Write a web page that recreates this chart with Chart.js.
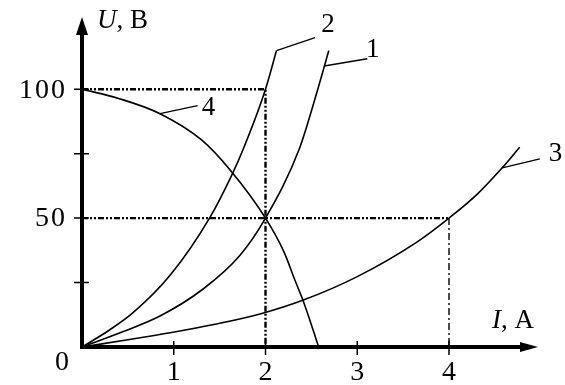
<!DOCTYPE html>
<html>
<head>
<meta charset="utf-8">
<script src="https://cdn.jsdelivr.net/npm/chart.js@4.4.1/dist/chart.umd.min.js"></script>
<style>
  html, body { margin: 0; padding: 0; background: #fff; }
  #chart { display: block; }
</style>
</head>
<body>
<canvas id="chart" width="565" height="385"></canvas>
<script>
// Current I (A) and voltage U (V)
const curve1I = [0, 0.45, 0.85, 1.32, 1.72, 2, 2.37, 2.57, 2.69];
const curve1U = [0, 6, 12, 22.5, 35.5, 50, 77, 100, 115];

const curve2I = [0, 0.3, 0.56, 0.96, 1.39, 1.63, 1.76, 2, 2.12];
const curve2U = [0, 6.6, 13.4, 27.8, 50, 66.5, 77, 100, 115];

const curve3I = [0, 0.5, 0.96, 1.45, 1.94, 2.42, 3, 3.65, 4, 4.3, 4.58, 4.77];
const curve3U = [0, 2.8, 5.5, 8.8, 12.8, 18.3, 27.3, 40.7, 50, 59, 69.5, 77.5];

const curve4I = [0, 0.4, 0.85, 1.3, 1.63, 2, 2.2, 2.32, 2.42, 2.58];
const curve4U = [100, 96.4, 90.5, 80.4, 68, 50, 37, 26, 17, 0];

// guide lines to the marked points
const guide100I = [0, 2, 2];
const guide100U = [100, 100, 0];
const guide50I = [0, 4];
const guide50U = [50, 50];
const guide4I = [4, 4];
const guide4U = [50, 0];

// curve labels and their leader lines
const curveNames = ['1', '2', '3', '4'];
const leaderI = [[2.64, 3.11], [2.12, 2.54], [4.58, 4.99], [0.85, 1.26]];
const leaderU = [[109, 111.8], [115, 120], [69.5, 73], [90.5, 93.6]];
const nameI = [3.17, 2.68, 5.16, 1.38];
const nameU = [115.3, 125, 75, 92.8];

// axes
const xTicks = [1, 2, 3, 4];
const yTicks = [25, 50, 75, 100];
const yTickLabels = ['', '50', '', '100'];
const xMax = 4.97;
const yMax = 128;

function pts(xs, ys) {
    return xs.map((x, i) => ({ x: x, y: ys[i] }));
}

function curve(xs, ys) {
    return {
        data: pts(xs, ys),
        showLine: true,
        borderColor: '#000',
        borderWidth: 1.6,
        pointRadius: 0,
        cubicInterpolationMode: 'monotone',
        clip: false
    };
}

function guide(xs, ys, dash, width) {
    return {
        data: pts(xs, ys),
        showLine: true,
        borderColor: '#000',
        borderWidth: width,
        borderDash: dash,
        pointRadius: 0,
        tension: 0,
        clip: false
    };
}

const leaderSets = leaderI.map((xs, i) => ({
    data: pts(xs, leaderU[i]),
    showLine: true,
    borderColor: '#000',
    borderWidth: 1.3,
    pointRadius: 0,
    tension: 0,
    clip: false
}));

const FONT = '"Liberation Serif", "DejaVu Serif", serif';

// draws the arrowed axes, ticks and all text
const axesPlugin = {
    id: 'arrowAxes',
    afterDatasetsDraw(chart) {
        const ctx = chart.ctx;
        const xs = chart.scales.x;
        const ys = chart.scales.y;
        const ox = xs.getPixelForValue(0);
        const oy = ys.getPixelForValue(0);
        const tipX = xs.getPixelForValue(xMax);
        const tipY = ys.getPixelForValue(yMax);

        ctx.save();
        ctx.strokeStyle = '#000';
        ctx.fillStyle = '#000';

        // axis lines
        ctx.lineWidth = 4;
        ctx.beginPath();
        ctx.moveTo(ox, oy + 2);
        ctx.lineTo(ox, tipY + 12);
        ctx.moveTo(ox - 2, oy);
        ctx.lineTo(tipX - 12, oy);
        ctx.stroke();

        // arrowheads
        ctx.beginPath();
        ctx.moveTo(ox, tipY);
        ctx.lineTo(ox - 6, tipY + 18);
        ctx.lineTo(ox + 6, tipY + 18);
        ctx.closePath();
        ctx.fill();
        ctx.beginPath();
        ctx.moveTo(tipX, oy);
        ctx.lineTo(tipX - 18, oy - 5);
        ctx.lineTo(tipX - 18, oy + 5);
        ctx.closePath();
        ctx.fill();

        // ticks
        ctx.lineWidth = 1.5;
        ctx.beginPath();
        yTicks.forEach(v => {
            const py = ys.getPixelForValue(v);
            ctx.moveTo(ox - 8, py);
            ctx.lineTo(ox + 7, py);
        });
        xTicks.forEach(v => {
            const px = xs.getPixelForValue(v);
            ctx.moveTo(px, oy - 6);
            ctx.lineTo(px, oy + 8);
        });
        ctx.stroke();

        // tick labels
        ctx.font = '28px ' + FONT;
        ctx.textBaseline = 'middle';
        ctx.textAlign = 'right';
        ctx.letterSpacing = '2px';
        yTicks.forEach((v, i) => {
            if (yTickLabels[i]) ctx.fillText(yTickLabels[i], ox - 15, ys.getPixelForValue(v) + 1);
        });
        ctx.letterSpacing = '0px';
        ctx.textAlign = 'center';
        ctx.fillText('0', ox - 20, oy + 16);
        xTicks.forEach(v => {
            ctx.fillText(String(v), xs.getPixelForValue(v), oy + 26);
        });

        // axis titles
        ctx.textBaseline = 'alphabetic';
        ctx.textAlign = 'left';
        ctx.font = 'italic 27px ' + FONT;
        ctx.fillText('U', ox + 15, tipY + 11);
        let w = ctx.measureText('U').width;
        ctx.font = '27px ' + FONT;
        ctx.fillText(', B', ox + 15 + w, tipY + 11);

        ctx.font = 'italic 27px ' + FONT;
        ctx.fillText('I', tipX - 46, oy - 19);
        w = ctx.measureText('I').width;
        ctx.font = '27px ' + FONT;
        ctx.fillText(', A', tipX - 46 + w, oy - 19);

        // curve names
        ctx.textAlign = 'center';
        ctx.textBaseline = 'middle';
        curveNames.forEach((n, i) => {
            ctx.fillText(n, xs.getPixelForValue(nameI[i]), ys.getPixelForValue(nameU[i]));
        });
        ctx.restore();
    }
};

new Chart(document.getElementById('chart'), {
    type: 'scatter',
    data: {
        datasets: [
            guide(guide100I, guide100U, [6, 2, 2, 2, 2, 2], 2.4),
            guide(guide50I, guide50U, [6, 2, 2, 2, 2, 2], 2.4),
            guide(guide4I, guide4U, [7, 3, 2, 3], 1.4),
            curve(curve1I, curve1U),
            curve(curve2I, curve2U),
            curve(curve3I, curve3U),
            curve(curve4I, curve4U),
            ...leaderSets
        ]
    },
    options: {
        responsive: false,
        animation: false,
        layout: {
            padding: { left: 82, right: 27, top: 17, bottom: 38 }
        },
        scales: {
            x: { type: 'linear', min: 0, max: xMax, display: false },
            y: { type: 'linear', min: 0, max: yMax, display: false }
        },
        plugins: {
            legend: { display: false },
            tooltip: { enabled: false }
        }
    },
    plugins: [axesPlugin]
});
</script>
</body>
</html>
